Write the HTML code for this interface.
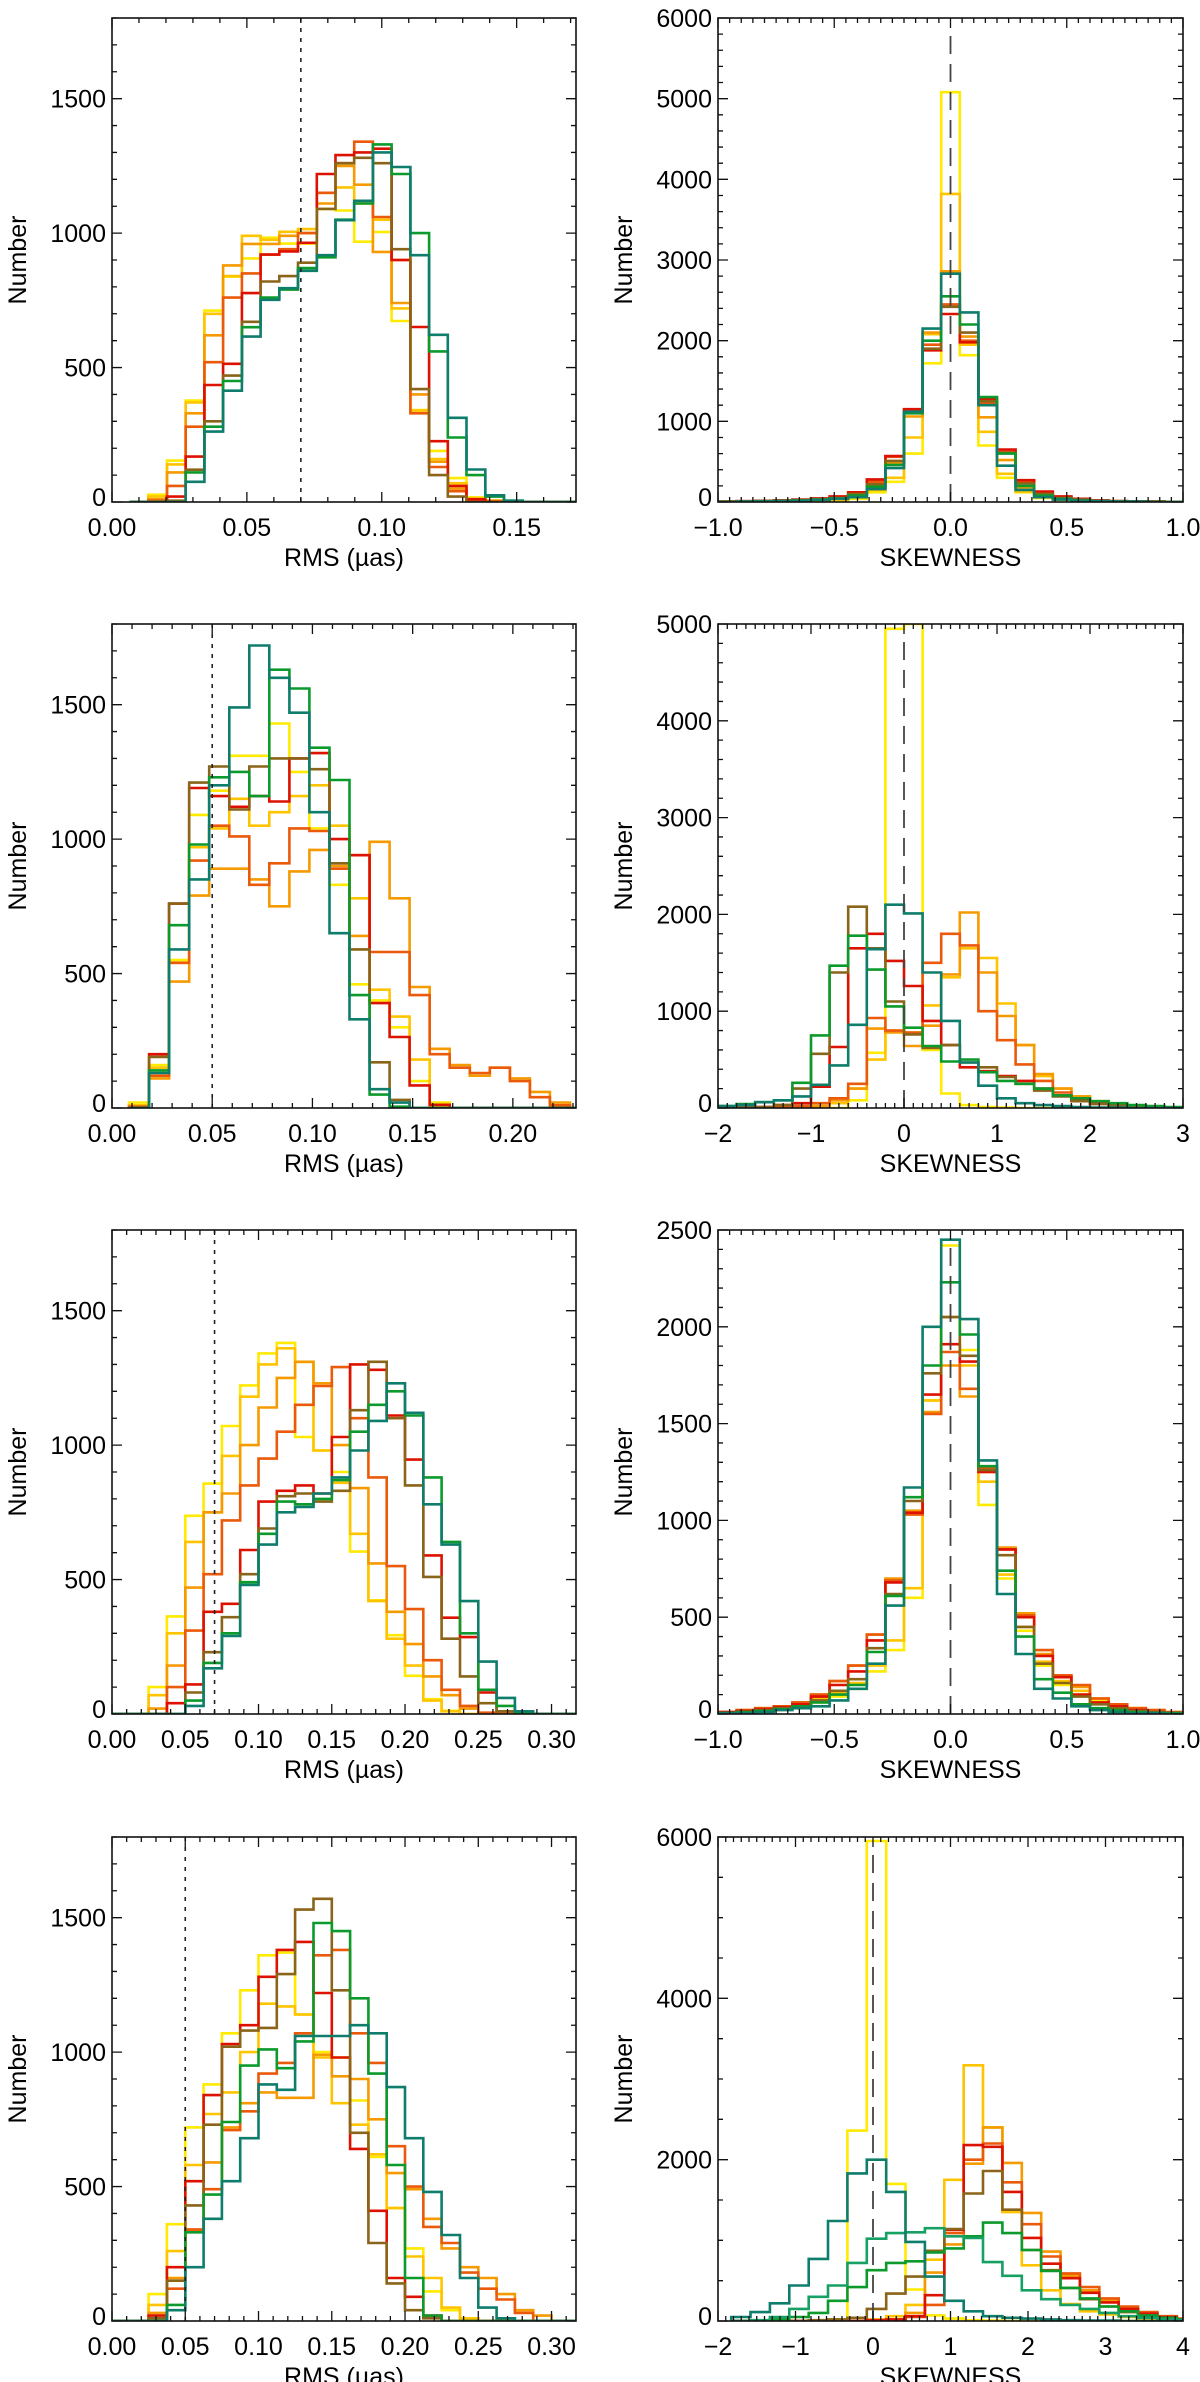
<!DOCTYPE html>
<html><head><meta charset="utf-8">
<style>
html,body{margin:0;padding:0;background:#fff;}
svg{display:block;font-family:"Liberation Sans",Arial,sans-serif;}
</style></head>
<body>
<svg id="fig" width="1200" height="2382" viewBox="0 0 1200 2382" xmlns="http://www.w3.org/2000/svg"></svg>
<script>
// ---------- DATA ----------
const seriesKeys = ["yellow","gold","orange","orangered","red","brown","green","greenteal","teal"];
const seriesColors = {yellow:"#ffea00",gold:"#ffc400",orange:"#f59a00",orangered:"#ea5a0a",red:"#dd1100",brown:"#8a6418",green:"#0c9a2c",greenteal:"#16a064",teal:"#0e7d6c"};

// Panel 1 left: RMS, bins start 0.0065 width 0.00694
const p1L_yellow=[0,27,154,377,712,838,906,983,961,961,1090,1084,968,1004,673,342,190,89,17,5,0,0,0,0];
const p1L_gold=[0,20,140,370,700,840,990,975,1005,1015,1150,1170,1110,1050,720,340,160,70,15,5,0,0,0,0];
const p1L_orange=[0,10,110,330,620,880,960,960,990,1000,1110,1250,1180,930,740,400,150,50,10,5,0,0,0,0];
const p1L_orangered=[0,5,60,280,520,760,850,920,940,1000,1150,1260,1340,1060,900,330,130,40,5,2,0,0,0,0];
const p1L_red=[0,0,20,169,435,514,777,920,932,964,1220,1290,1300,1314,900,651,226,60,10,0,0,0,0,0];
const p1L_brown=[0,0,5,120,300,470,670,820,840,890,1090,1260,1280,1260,940,420,100,20,0,0,0,0,0,0];
const p1L_green=[0,0,0,110,280,450,650,760,790,870,910,1050,1110,1330,1220,1000,560,240,100,20,5,0,0,0];
const p1L_teal=[0,0,0,75,262,414,615,752,795,860,918,1048,1120,1300,1246,918,622,313,121,25,5,0,0,0];

// Panel 1 right: skewness, bins start -1.0 width 0.08
const p1R_yellow=[0,0,5,5,10,15,20,40,120,250,600,1720,5080,1820,700,300,120,50,25,15,10,5,5,0,0];
const p1R_gold=[0,5,5,10,15,20,30,60,150,300,800,2080,3820,1950,870,350,130,70,40,20,10,5,5,0,0];
const p1R_orange=[5,5,10,15,20,30,50,80,170,480,1060,2100,2860,2050,1050,520,180,80,50,30,15,10,5,5,0];
const p1R_orangered=[5,10,15,20,25,40,60,110,250,560,1130,1950,2450,2000,1230,620,250,110,60,35,20,10,5,5,0];
const p1R_red=[5,10,15,20,30,45,70,120,280,570,1150,1880,2330,1980,1280,650,270,130,70,40,20,10,5,5,0];
const p1R_brown=[5,5,10,15,25,35,50,100,220,510,1120,1900,2420,2100,1250,610,230,100,50,30,15,10,5,5,0];
const p1R_green=[0,5,10,15,20,30,45,80,190,460,1100,2000,2550,2200,1300,600,200,80,40,20,10,5,5,0,0];
const p1R_teal=[0,5,5,10,15,25,40,60,160,420,1120,2150,2830,2350,1200,450,150,60,30,15,10,5,5,0,0];

// Panel 2 left: RMS, bins start 0.0085 width 0.01
const p2L_yellow=[20,160,550,1090,1180,1310,1310,1430,1250,1040,830,460,400,300,100,20,0,0,0,0,0,0,0];
const p2L_gold=[10,150,540,970,1040,1150,1050,1100,1160,1200,1050,780,440,340,180,5,0,0,0,0,0,0,0];
const p2L_orange=[5,110,470,790,890,890,850,750,880,960,900,640,990,780,450,220,160,120,150,110,60,20,0];
const p2L_orangered=[5,120,540,920,1050,1010,830,910,1040,1030,890,940,580,580,420,200,150,130,150,100,40,10,0];
const p2L_red=[0,200,760,1190,1160,1120,1160,1140,1300,1320,1000,940,390,264,84,12,0,0,0,0,0,0,0];
const p2L_brown=[0,190,760,1210,1270,1110,1270,1300,1300,1260,910,590,170,30,0,0,0,0,0,0,0,0,0];
const p2L_green=[0,140,680,980,1230,1250,1160,1630,1560,1340,1220,420,50,5,0,0,0,0,0,0,0,0,0];
const p2L_teal=[0,130,590,850,1200,1490,1720,1600,1470,1100,650,330,70,20,0,0,0,0,0,0,0,0,0];

// Panel 2 right: skewness, bins start -2.0 width 0.2
const p2R_yellow=[0,0,0,0,0,0,0,80,570,4950,5000,600,150,30,10,5,0,0,0,0,0,0,0,0,0];
const p2R_gold=[0,0,0,0,0,10,50,200,500,800,780,1060,1350,1650,1550,1080,650,330,200,120,70,40,20,10,5];
const p2R_orange=[0,0,0,0,5,20,80,200,820,780,640,850,1380,2020,1400,950,650,350,200,120,60,40,20,10,5];
const p2R_orangered=[0,0,0,5,20,50,100,250,930,800,780,1500,1800,1680,1000,700,450,280,160,90,50,30,15,10,5];
const p2R_red=[0,5,10,30,50,220,630,1650,1800,1520,1260,900,650,420,380,330,280,200,130,80,50,30,20,10,5];
const p2R_brown=[0,5,10,30,200,560,1400,2080,1650,1100,760,620,650,470,420,320,250,180,120,70,40,25,15,10,5];
const p2R_green=[20,40,60,80,260,750,1470,1780,1430,1050,830,640,480,500,370,280,250,200,130,100,70,50,30,20,10];
const p2R_teal=[20,30,60,80,120,240,440,860,1640,2100,2010,1400,900,470,230,100,50,30,20,10,5,5,0,0,0];

// Panel 3 left: RMS, bins start 0 width 0.0125
const p3L_yellow=[0,0,100,363,737,857,1071,1222,1341,1380,1030,980,900,604,423,293,142,55,12,0,0,0,0,0,0,0];
const p3L_gold=[0,0,70,300,640,750,960,1180,1300,1360,1310,980,860,670,420,280,180,50,10,0,0,0,0,0,0,0];
const p3L_orange=[0,0,20,180,470,750,820,1000,1140,1250,1310,1230,1000,840,560,380,260,140,70,20,0,0,0,0,0,0];
const p3L_orangered=[0,0,0,100,310,520,720,850,950,1050,1150,1220,1290,1100,880,550,390,200,90,30,5,0,0,0,0,0];
const p3L_red=[0,0,0,40,110,380,410,610,790,830,850,820,1030,1300,1280,1110,946,590,358,286,80,10,0,0,0,0];
const p3L_brown=[0,0,0,0,80,230,360,520,690,810,820,790,830,1130,1310,1100,850,510,280,140,40,10,0,0,0,0];
const p3L_green=[0,0,0,0,50,190,300,490,670,790,780,800,870,1050,1150,1200,1110,880,640,300,90,30,5,0,0,0];
const p3L_teal=[0,0,0,0,30,170,290,480,630,750,770,820,880,980,1090,1230,1120,780,630,420,195,60,10,0,0,0];

// Panel 3 right: skewness, bins start -1.0 width 0.08
const p3R_yellow=[5,10,15,25,40,60,90,130,220,330,600,1620,2420,1880,1080,700,430,250,150,100,70,40,20,10,5];
const p3R_gold=[5,10,20,30,50,80,110,160,250,380,650,1620,2050,1800,1200,720,450,270,170,120,80,50,30,15,5];
const p3R_orange=[10,20,30,40,60,100,170,250,410,700,1050,1560,1800,1640,1250,860,520,310,200,140,80,50,30,20,10];
const p3R_orangered=[10,20,30,40,60,100,170,250,410,690,1030,1550,1870,1680,1270,850,510,330,200,150,80,50,30,20,10];
const p3R_red=[10,15,25,35,50,90,150,220,380,680,1040,1650,1910,1820,1250,850,500,300,190,100,60,40,20,10,5];
const p3R_brown=[5,10,20,30,40,70,120,180,340,620,1100,1760,2050,1850,1260,820,450,260,160,90,50,30,15,10,5];
const p3R_green=[5,10,15,25,40,60,100,150,320,610,1120,1800,2230,1960,1280,740,400,180,110,50,30,20,10,5,5];
const p3R_teal=[5,5,10,20,30,40,70,130,260,560,1170,2000,2450,2040,1310,620,310,130,80,40,20,10,5,5,0];

// Panel 4 left: RMS, bins start 0 width 0.0125
const p4L_yellow=[0,0,100,360,720,880,1070,1230,1360,1370,1140,1000,980,820,610,420,270,110,40,10,0,0,0,0,0,0];
const p4L_gold=[0,0,60,260,580,770,850,1000,1180,1170,1140,980,810,730,620,420,240,160,50,10,0,0,0,0,0,0];
const p4L_orange=[0,0,30,160,340,590,720,810,850,830,830,990,910,900,750,550,490,380,270,200,160,100,40,20,0,0];
const p4L_orangered=[0,0,10,120,340,490,710,780,920,960,1070,1360,1380,1070,960,650,500,350,290,180,120,80,30,0,0,0];
const p4L_red=[0,0,20,200,520,840,1030,1100,1280,1380,1410,1220,980,640,410,160,90,20,0,0,0,0,0,0,0,0];
const p4L_brown=[0,0,10,150,430,730,1020,1080,1090,1290,1530,1570,1230,700,290,140,40,10,0,0,0,0,0,0,0,0];
const p4L_green=[0,0,0,60,330,470,740,950,1010,940,1040,1480,1450,1200,920,580,160,20,0,0,0,0,0,0,0,0];
const p4L_teal=[0,0,0,40,200,380,520,680,880,860,1060,1060,1060,1100,1070,870,680,480,320,160,50,10,0,0,0,0];

// Panel 4 right: skewness, bins start -1.83 width 0.25
const p4R_yellow=[0,0,0,0,0,20,2360,5950,1700,390,70,30,10,5,0,0,0,0,0,0,0,0,0,0];
const p4R_gold=[0,0,0,0,0,0,0,20,60,200,760,1750,3170,2400,1350,690,380,210,120,80,50,30,20,10];
const p4R_orange=[0,0,0,0,0,0,0,0,20,100,600,950,1950,2400,1960,1340,860,560,380,250,160,100,50,20];
const p4R_orangered=[0,0,0,0,0,0,0,0,10,50,200,1090,2000,2200,1720,1200,800,590,420,280,180,110,60,30];
const p4R_red=[0,0,0,0,0,0,0,10,20,60,320,1130,2180,2160,1600,1030,710,530,350,230,150,90,50,20];
const p4R_brown=[0,0,0,0,10,20,40,150,340,550,870,1140,1580,1860,1380,880,630,410,270,180,110,70,40,20];
const p4R_green=[0,0,20,50,100,250,420,630,720,740,850,900,1050,1220,1090,880,620,410,280,180,120,70,40,20];
const p4R_greenteal=[0,10,50,150,300,440,720,1020,1090,1100,1150,1050,1030,730,560,380,270,200,150,100,60,40,20,10];
const p4R_teal=[50,110,220,440,770,1240,1830,2000,1600,980,550,250,120,60,40,30,20,10,5,5,0,0,0,0];

// Tick label arrays
const rmsTicks1=[0,0.05,0.10,0.15];
const rmsTicks2=[0,0.05,0.10,0.15,0.20];
const rmsTicks34=[0,0.05,0.10,0.15,0.20,0.25,0.30];
const skewTicks13=[-1,-0.5,0,0.5,1];
const skewTicks2=[-2,-1,0,1,2,3];
const skewTicks4=[-2,-1,0,1,2,3,4];
const countTicksL=[0,500,1000,1500];
const countTicks1R=[0,1000,2000,3000,4000,5000,6000];
const countTicks2R=[0,1000,2000,3000,4000,5000];
const countTicks3R=[0,500,1000,1500,2000,2500];
const countTicks4R=[0,2000,4000,6000];

// ---------- LAYOUT ----------
const ROW_TOP=[18,624,1230,1837], BOX_H=484;
const LEFT_X=112, LEFT_W=464, RIGHT_X=718, RIGHT_W=465;

const panels=[
 {id:"p1L",row:0,side:"L",xmin:0,xmax:0.172,ymax:1800,bin0:0.0065,bw:0.00694,ser:{yellow:p1L_yellow,gold:p1L_gold,orange:p1L_orange,orangered:p1L_orangered,red:p1L_red,brown:p1L_brown,green:p1L_green,teal:p1L_teal},xt:rmsTicks1,xfmt:2,xminor:0.01,yt:countTicksL,yminor:100,vline:0.07},
 {id:"p1R",row:0,side:"R",xmin:-1,xmax:1,ymax:6000,bin0:-1.0,bw:0.08,ser:{yellow:p1R_yellow,gold:p1R_gold,orange:p1R_orange,orangered:p1R_orangered,red:p1R_red,brown:p1R_brown,green:p1R_green,teal:p1R_teal},xt:skewTicks13,xfmt:1,xminor:0.05,yt:countTicks1R,yminor:200,vline:0},
 {id:"p2L",row:1,side:"L",xmin:0,xmax:0.2315,ymax:1800,bin0:0.0085,bw:0.01,ser:{yellow:p2L_yellow,gold:p2L_gold,orange:p2L_orange,orangered:p2L_orangered,red:p2L_red,brown:p2L_brown,green:p2L_green,teal:p2L_teal},xt:rmsTicks2,xfmt:2,xminor:0.01,yt:countTicksL,yminor:100,vline:0.05},
 {id:"p2R",row:1,side:"R",xmin:-2,xmax:3,ymax:5000,bin0:-2.0,bw:0.2,ser:{yellow:p2R_yellow,gold:p2R_gold,orange:p2R_orange,orangered:p2R_orangered,red:p2R_red,brown:p2R_brown,green:p2R_green,teal:p2R_teal},xt:skewTicks2,xfmt:0,xminor:0.1,yt:countTicks2R,yminor:200,vline:0},
 {id:"p3L",row:2,side:"L",xmin:0,xmax:0.3167,ymax:1800,bin0:0,bw:0.0125,ser:{yellow:p3L_yellow,gold:p3L_gold,orange:p3L_orange,orangered:p3L_orangered,red:p3L_red,brown:p3L_brown,green:p3L_green,teal:p3L_teal},xt:rmsTicks34,xfmt:2,xminor:0.01,yt:countTicksL,yminor:100,vline:0.07},
 {id:"p3R",row:2,side:"R",xmin:-1,xmax:1,ymax:2500,bin0:-1.0,bw:0.08,ser:{yellow:p3R_yellow,gold:p3R_gold,orange:p3R_orange,orangered:p3R_orangered,red:p3R_red,brown:p3R_brown,green:p3R_green,teal:p3R_teal},xt:skewTicks13,xfmt:1,xminor:0.05,yt:countTicks3R,yminor:100,vline:0},
 {id:"p4L",row:3,side:"L",xmin:0,xmax:0.3167,ymax:1800,bin0:0,bw:0.0125,ser:{yellow:p4L_yellow,gold:p4L_gold,orange:p4L_orange,orangered:p4L_orangered,red:p4L_red,brown:p4L_brown,green:p4L_green,teal:p4L_teal},xt:rmsTicks34,xfmt:2,xminor:0.01,yt:countTicksL,yminor:100,vline:0.05},
 {id:"p4R",row:3,side:"R",xmin:-2,xmax:4,ymax:6000,bin0:-1.83,bw:0.25,ser:{yellow:p4R_yellow,gold:p4R_gold,orange:p4R_orange,orangered:p4R_orangered,red:p4R_red,brown:p4R_brown,green:p4R_green,greenteal:p4R_greenteal,teal:p4R_teal},xt:skewTicks4,xfmt:0,xminor:0.1,yt:countTicks4R,yminor:500,vline:0}
];

const NS="http://www.w3.org/2000/svg";
const svg=document.getElementById("fig");
function mk(tag,attrs,parent){const e=document.createElementNS(NS,tag);for(const k in attrs)e.setAttribute(k,attrs[k]);(parent||svg).appendChild(e);return e;}
function fmtTick(v,d){let s=v.toFixed(d);if(v<0)s="\u2212"+s.slice(1);return s;}

panels.forEach(p=>{
  const bx=p.side==="L"?LEFT_X:RIGHT_X, bw=p.side==="L"?LEFT_W:RIGHT_W;
  const by=ROW_TOP[p.row], bh=BOX_H;
  const sx=v=>bx+(v-p.xmin)/(p.xmax-p.xmin)*bw;
  const sy=v=>by+bh-(v/p.ymax)*bh;
  const g=mk("g",{});
  
  
  const cid="clip-"+p.id;
  const cp=mk("clipPath",{id:cid},g);
  mk("rect",{x:bx,y:by,width:bw,height:bh},cp);

  const hg=mk("g",{"clip-path":"url(#"+cid+")"},g);
  
  
  seriesKeys.forEach(k=>{
    const arr=p.ser[k]; if(!arr) return;
    let d="M"+sx(p.bin0).toFixed(1)+","+sy(0).toFixed(1);
    arr.forEach((v,i)=>{
      const x0=sx(p.bin0+i*p.bw), x1=sx(p.bin0+(i+1)*p.bw), y=sy(v);
      d+=" L"+x0.toFixed(1)+","+y.toFixed(1)+" L"+x1.toFixed(1)+","+y.toFixed(1);
    });
    d+=" L"+sx(p.bin0+arr.length*p.bw).toFixed(1)+","+sy(0).toFixed(1)+" L"+(bx+bw)+","+sy(0).toFixed(1);
    const path=mk("path",{d:d,fill:"none",stroke:seriesColors[k],"stroke-width":2.6,"stroke-linejoin":"miter"},hg);
    
    
  });

  const vx=sx(p.vline);
  const vl=mk("line",{x1:vx,x2:vx,y1:by+bh,y2:by+(p.side==="L"?0:8),stroke:p.side==="L"?"#222":"#444","stroke-width":p.side==="L"?1.6:1.8,"stroke-dasharray":p.side==="L"?"4,6":"18,10"},g);
  
  

  const box=mk("rect",{x:bx,y:by,width:bw,height:bh,fill:"none",stroke:"#111","stroke-width":1.6},g);
  
  

  let td="";
  for(let v=Math.ceil(p.xmin/p.xminor-1e-6)*p.xminor; v<=p.xmax+1e-9; v+=p.xminor){
    const x=sx(v); td+="M"+x+","+(by+bh)+"v-5M"+x+","+by+"v5";
  }
  p.xt.forEach(v=>{const x=sx(v);td+="M"+x+","+(by+bh)+"v-10M"+x+","+by+"v10";});
  for(let v=0; v<=p.ymax+1e-9; v+=p.yminor){
    const y=sy(v); td+="M"+bx+","+y+"h5M"+(bx+bw)+","+y+"h-5";
  }
  p.yt.forEach(v=>{const y=sy(v);td+="M"+bx+","+y+"h10M"+(bx+bw)+","+y+"h-10";});
  const tk=mk("path",{d:td,stroke:"#111","stroke-width":1.3,fill:"none"},g);
  
  

  p.xt.forEach(v=>{
    const t=mk("text",{x:sx(v),y:by+bh+34,"font-size":25,"text-anchor":"middle",fill:"#000"},g);
    t.textContent=fmtTick(v,p.xfmt);
    
    
  });
  p.yt.forEach(v=>{
    const t=mk("text",{x:bx-6,y:sy(v)+(v===0?4:9),"font-size":25,"text-anchor":"end",fill:"#000"},g);
    t.textContent=String(v);
    
    
  });
  const xt=mk("text",{x:bx+bw/2,y:by+bh+64,"font-size":25,"text-anchor":"middle",fill:"#000"},g);
  xt.textContent=p.side==="L"?"RMS (\u00b5as)":"SKEWNESS";
  
  
  const yx=p.side==="L"?26:632, yy=by+bh/2;
  const yt=mk("text",{x:yx,y:yy,"font-size":25,"text-anchor":"middle",fill:"#000",transform:"rotate(-90 "+yx+" "+yy+")"},g);
  yt.textContent="Number";
  
  
});
</script>
</body></html>
